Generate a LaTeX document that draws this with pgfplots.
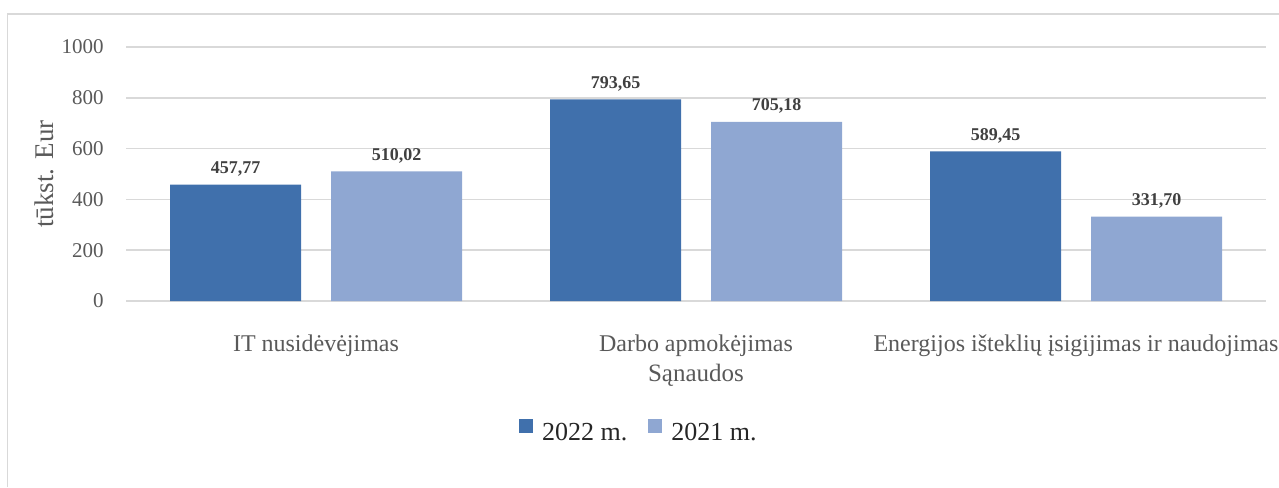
\documentclass[border=0pt]{standalone}
\usepackage{pgfplots}
\pgfplotsset{compat=1.18}
\usepackage{fontspec}
\setmainfont{Liberation Serif}
\definecolor{bardark}{RGB}{64,112,172}
\definecolor{barlight}{RGB}{143,167,210}
\definecolor{gridgray}{RGB}{217,217,217}
\definecolor{txtgray}{RGB}{89,89,89}
\definecolor{lblgray}{RGB}{64,64,64}
\begin{document}
\begin{tikzpicture}
\path[use as bounding box] (-63pt,-93pt) rectangle (576.5pt,150.5pt);
\draw[gridgray, line width=0.9pt] (-59.25pt,-93pt) -- (-59.25pt,143.5pt) -- (576.5pt,143.5pt);
\begin{axis}[
  at={(0,0)}, anchor=south west,
  scale only axis, width=570pt, height=127pt,
  ybar=15pt, bar width=65.5pt,
  xmin=-0.5, xmax=2.5, ymin=0, ymax=1000,
  xtick={0,1,2},
  xticklabels={IT nusidėvėjimas, Darbo apmokėjimas, Energijos išteklių įsigijimas ir naudojimas},
  ytick={0,200,400,600,800,1000},
  /pgf/number format/assume math mode=true,
  yticklabel style={/pgf/number format/1000 sep={}, anchor=east, inner sep=0pt, xshift=-11pt, font=\fontsize{10.5pt}{12pt}\selectfont, text=txtgray},
  xticklabel style={anchor=base, inner sep=0pt, yshift=-25pt, font=\fontsize{12pt}{14pt}\selectfont, text=txtgray},
  major tick length=0pt,
  axis line style={draw=none},
  ymajorgrids, grid style={gridgray, line width=0.75pt},
  ylabel={tūkst. Eur},
  ylabel style={at={(axis description cs:-0.064,0.5)}, anchor=base, inner sep=0pt, font=\fontsize{13.5pt}{15pt}\selectfont, text=txtgray},
  xlabel={Sąnaudos},
  xlabel style={at={(axis description cs:0.5,-0.3189)}, anchor=base, inner sep=0pt, font=\fontsize{12.5pt}{14pt}\selectfont, text=txtgray},
  nodes near coords={\pgfmathprintnumber[use comma,fixed,fixed zerofill,precision=2]{\pgfplotspointmeta}},
  every node near coord/.append style={anchor=base, inner sep=0pt, yshift=5.5pt, font=\bfseries\fontsize{9pt}{10pt}\selectfont, text=lblgray},
  legend columns=2,
  legend style={at={(axis description cs:0.449,-0.513)}, anchor=center, draw=none, fill=none,
    column sep=4.5pt, nodes={inner sep=0pt}, font=\fontsize{13pt}{15pt}\selectfont, text=black!85},
  legend image code/.code={\fill[#1, draw=none] (0pt,0pt) rectangle (7pt,7pt);},
]
\addplot[fill=bardark, draw=none] coordinates {(0,457.77) (1,793.65) (2,589.45)};
\addplot[fill=barlight, draw=none] coordinates {(0,510.02) (1,705.18) (2,331.70)};
\legend{2022 m.\kern6pt, 2021 m.}
\end{axis}
\end{tikzpicture}
\end{document}
